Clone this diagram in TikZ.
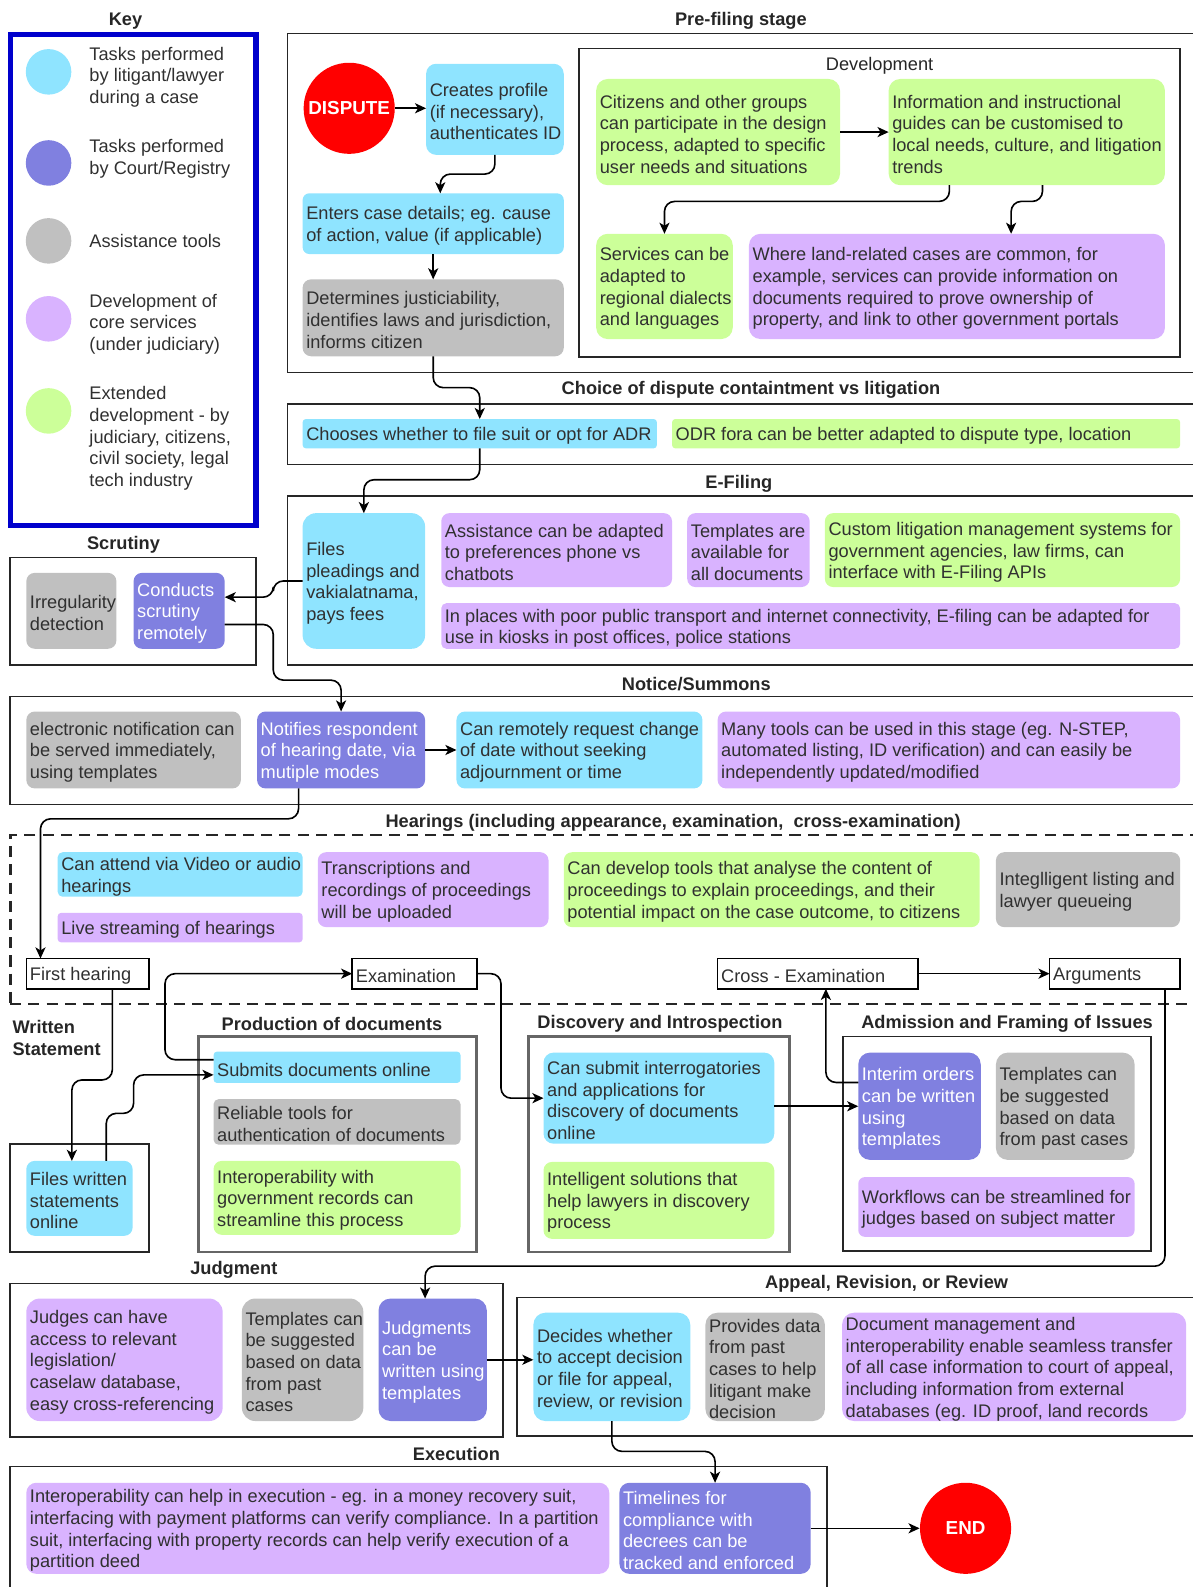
\documentclass[tikz,border=0pt]{standalone}
\usepackage{fontspec}
\setmainfont{Liberation Sans}
\usetikzlibrary{arrows.meta,calc}
\definecolor{cyanB}{HTML}{8FE4FF}
\definecolor{courtB}{HTML}{8080E0}
\definecolor{grayB}{HTML}{C0C0C0}
\definecolor{purpB}{HTML}{D9B3FF}
\definecolor{greenB}{HTML}{CCFF99}
\definecolor{keyblue}{HTML}{0000CC}
\definecolor{txtc}{HTML}{303030}
\newcommand\bx[8]{%
  \pgfmathsetmacro\BXw{(#4-#2)*0.5}%
  \pgfmathsetmacro\BXh{(#5-#3)*0.5}%
  \pgfmathsetmacro\BXr{min(\BXw,\BXh)*0.11}%
  \node[inner sep=0pt, outer sep=0pt, rounded corners=\BXr pt, #6, minimum width=\BXw pt, minimum height=\BXh pt] (#1) at ({(#2+#4)/2},{(#3+#5)/2}) {};
  \node[txt, #7, anchor=west] (#1-t) at ([xshift=1.6pt]#1.west) {#8};
}
\newcommand\frm[6]{%
  \pgfmathsetmacro\BXw{(#4-#2)*0.5}%
  \pgfmathsetmacro\BXh{(#5-#3)*0.5}%
  \node[inner sep=0pt, outer sep=0pt, #6, minimum width=\BXw pt, minimum height=\BXh pt] (#1) at ({(#2+#4)/2},{(#3+#5)/2}) {};
}
\tikzset{
  txt/.style={inner sep=0pt, align=left, font=\fontsize{9}{10.7}\selectfont, text=txtc, yshift=-1.1pt},
  wtxt/.style={text=white},
  lbl/.style={inner sep=0pt, align=center, font=\fontsize{9}{10.7}\selectfont\bfseries, text=black!85, yshift=-1.3pt},
  bcy/.style={fill=cyanB},
  bco/.style={fill=courtB},
  bgr/.style={fill=grayB},
  bpu/.style={fill=purpB},
  bgn/.style={fill=greenB},
  stp/.style={draw=black, fill=white, line width=0.8pt, sharp corners},
  fr/.style={draw=black!85, line width=0.8pt},
  grfr/.style={draw=black!60, line width=1.2pt},
  dashfr/.style={draw=black!85, line width=1.4pt, dash pattern=on 5.5pt off 3.5pt},
  keyfr/.style={draw=keyblue, line width=2.6pt},
  arr/.style={draw=black, line width=0.8pt, rounded corners=5pt, -{Stealth[length=5.5pt,width=5pt,inset=1.5pt]}},
  kc/.style={circle, inner sep=0pt, minimum size=22.5pt},
  bigc/.style={circle, fill=red, inner sep=0pt, minimum size=45pt, text=white, font=\fontsize{9.3}{11}\selectfont\bfseries},
}
\begin{document}
\begin{tikzpicture}[x=0.5pt,y=-0.5pt]
\useasboundingbox (0,0) rectangle (1178,1568);
% ---------- frames
\frm{keybox}{10.5}{34}{253}{519}{keyfr}
\frm{prefr}{284}{33}{1184}{368}{fr}
\frm{devfr}{572}{48}{1166}{353}{fr}
\frm{choicefr}{284}{399}{1184}{459}{fr}
\frm{efr}{284}{490}{1184}{657}{fr}
\frm{scrfr}{10}{551}{253}{657}{fr}
\frm{notfr}{10}{688}{1184}{795}{fr}
\frm{hearfr}{10}{825}{1190}{992}{dashfr}
\frm{wsfr}{10}{1130}{147}{1237}{fr}
\frm{prodfr}{196}{1024}{471}{1237}{grfr}
\frm{discfr}{522}{1024}{780}{1237}{grfr}
\frm{admfr}{833}{1024}{1137}{1236}{fr}
\frm{judgfr}{10}{1268}{497}{1420}{fr}
\frm{appfr}{511}{1282}{1184}{1419}{fr}
\frm{exfr}{10}{1449}{817}{1585}{fr}
% ---------- labels
\node[lbl] (lkey) at (124,18) {Key};
\node[lbl] (lpre) at (732,18) {Pre-filing stage};
\node[lbl, font=\fontsize{9}{10.7}\selectfont] (ldev) at (869,62) {Development};
\node[lbl] (lchoice) at (742,383) {Choice of dispute containtment vs litigation};
\node[lbl] (lefil) at (730,475) {E-Filing};
\node[lbl] (lscr) at (122,536) {Scrutiny};
\node[lbl] (lnot) at (688,673) {Notice/Summons};
\node[lbl] (lhear) at (665,810) {Hearings (including appearance, examination,\ \ cross-examination)};
\node[lbl, align=left, anchor=west] (lws) at (12,1023) {Written\\Statement};
\node[lbl] (lprod) at (328,1009) {Production of documents};
\node[lbl] (ldisc) at (652,1009) {Discovery and Introspection};
\node[lbl] (ladm) at (995,1009) {Admission and Framing of Issues};
\node[lbl] (ljudg) at (231,1252) {Judgment};
\node[lbl] (lapp) at (876,1266) {Appeal, Revision, or Review};
\node[lbl] (lexe) at (451,1434) {Execution};
% ---------- key
\node[kc, fill=cyanB] (k1) at (48,71) {};
\node[kc, fill=courtB] (k2) at (48,161) {};
\node[kc, fill=grayB] (k3) at (48,238) {};
\node[kc, fill=purpB] (k4) at (48,315) {};
\node[kc, fill=greenB] (k5) at (48,406) {};
\node[txt, anchor=west] (k1t) at (88,74) {Tasks performed\\by litigant/lawyer\\during a case};
\node[txt, anchor=west] (k2t) at (88,155) {Tasks performed\\by Court/Registry};
\node[txt, anchor=west] (k3t) at (88,236) {Assistance tools};
\node[txt, anchor=west] (k4t) at (88,318) {Development of\\core services\\(under judiciary)};
\node[txt, anchor=west] (k5t) at (88,431) {Extended\\development - by\\judiciary, citizens,\\civil society, legal\\tech industry};
% ---------- pre-filing
\node[bigc] (dispute) at (345,107) {DISPUTE};
\bx{creates}{421}{63}{557}{153}{bcy}{}{Creates profile\\(if necessary),\\authenticates ID}
\bx{enters}{299}{191}{557}{251}{bcy}{}{Enters case details; eg. cause\\of action, value (if applicable)}
\bx{det}{299}{276}{557}{352}{bgr}{}{Determines justiciability,\\identifies laws and jurisdiction,\\informs citizen}
\bx{citz}{589}{78}{830}{183}{bgn}{}{Citizens and other groups\\can participate in the design\\process, adapted to specific\\user needs and situations}
\bx{info}{878}{78}{1151}{183}{bgn}{}{Information and instructional\\guides can be customised to\\local needs, culture, and litigation\\trends}
\bx{serv}{589}{231}{724}{335}{bgn}{}{Services can be\\adapted to\\regional dialects\\and languages}
\bx{land}{740}{231}{1151}{335}{bpu}{}{Where land-related cases are common, for\\example, services can provide information on\\documents required to prove ownership of\\property, and link to other government portals}
% ---------- choice
\bx{chooses}{299}{414}{649}{443}{bcy}{}{Chooses whether to file suit or opt for ADR}
\bx{odr}{664}{414}{1166}{443}{bgn}{}{ODR fora can be better adapted to dispute type, location}
% ---------- e-filing
\bx{files}{299}{507}{420}{641}{bcy}{}{Files\\pleadings and\\vakialatnama,\\pays fees}
\bx{assist}{436}{507}{664}{580}{bpu}{}{Assistance can be adapted\\to preferences phone vs\\chatbots}
\bx{tmpl}{679}{507}{800}{580}{bpu}{}{Templates are\\available for\\all documents}
\bx{custom}{815}{507}{1166}{580}{bgn}{}{Custom litigation management systems for\\government agencies, law firms, can\\interface with E-Filing APIs}
\bx{kiosk}{436}{596}{1166}{641}{bpu}{}{In places with poor public transport and internet connectivity, E-filing can be adapted for\\use in kiosks in post offices, police stations}
% ---------- scrutiny
\bx{irreg}{26}{566}{115}{641}{bgr}{}{Irregularity\\detection}
\bx{conducts}{132}{566}{222}{641}{bco}{wtxt}{Conducts\\scrutiny\\remotely}
% ---------- notice
\bx{enot}{26}{703}{238}{779}{bgr}{}{electronic notification can\\be served immediately,\\using templates}
\bx{notifies}{254}{703}{420}{779}{bco}{wtxt}{Notifies respondent\\of hearing date, via\\mutiple modes}
\bx{canreq}{451}{703}{694}{779}{bcy}{}{Can remotely request change\\of date without seeking\\adjournment or time}
\bx{many}{709}{703}{1166}{779}{bpu}{}{Many tools can be used in this stage (eg. N-STEP,\\automated listing, ID verification) and can easily be\\independently updated/modified}
% ---------- hearings
\bx{video}{57}{842}{299}{886}{bcy}{}{Can attend via Video or audio\\hearings}
\bx{live}{57}{902}{299}{931}{bpu}{}{Live streaming of hearings}
\bx{transc}{314}{842}{542}{916}{bpu}{}{Transcriptions and\\recordings of proceedings\\will be uploaded}
\bx{analyse}{557}{842}{968}{916}{bgn}{}{Can develop tools that analyse the content of\\proceedings to explain proceedings, and their\\potential impact on the case outcome, to citizens}
\bx{listing}{984}{842}{1166}{916}{bgr}{}{Integlligent listing and\\lawyer queueing}
\bx{first}{26}{947}{147}{977}{stp}{}{First hearing}
\bx{exam}{348}{947}{471}{977}{stp}{}{Examination}
\bx{cross}{709}{947}{907}{977}{stp}{}{Cross - Examination}
\bx{args}{1037}{947}{1166}{977}{stp}{}{Arguments}
% ---------- written statement
\bx{fwrit}{26}{1147}{131}{1221}{bcy}{}{Files written\\statements\\online}
% ---------- production
\bx{submits}{211}{1039}{455}{1070}{bcy}{}{Submits documents online}
\bx{reliable}{211}{1086}{455}{1131}{bgr}{}{Reliable tools for\\authentication of documents}
\bx{interop}{211}{1147}{455}{1220}{bgn}{}{Interoperability with\\government records can\\streamline this process}
% ---------- discovery
\bx{cansub}{537}{1040}{765}{1130}{bcy}{}{Can submit interrogatories\\and applications for\\discovery of documents\\online}
\bx{intel}{537}{1148}{765}{1224}{bgn}{}{Intelligent solutions that\\help lawyers in discovery\\process}
% ---------- admission
\bx{interim}{848}{1040}{969}{1146}{bco}{wtxt}{Interim orders\\can be written\\using\\templates}
\bx{tmplsug}{984}{1040}{1121}{1146}{bgr}{}{Templates can\\be suggested\\based on data\\from past cases}
\bx{workfl}{848}{1163}{1121}{1222}{bpu}{}{Workflows can be streamlined for\\judges based on subject matter}
% ---------- judgment
\bx{judges}{26}{1283}{220}{1404}{bpu}{}{Judges can have\\access to relevant\\legislation/\\caselaw database,\\easy cross-referencing}
\bx{tmplj}{239}{1283}{359}{1404}{bgr}{}{Templates can\\be suggested\\based on data\\from past\\cases}
\bx{judg}{374}{1283}{481}{1404}{bco}{wtxt}{Judgments\\can be\\written using\\templates}
% ---------- appeal
\bx{decides}{527}{1297}{682}{1404}{bcy}{}{Decides whether\\to accept decision\\or file for appeal,\\review, or revision}
\bx{provides}{697}{1297}{815}{1404}{bgr}{}{Provides data\\from past\\cases to help\\litigant make\\decision}
\bx{docmgmt}{832}{1297}{1172}{1404}{bpu}{}{Document management and\\interoperability enable seamless transfer\\of all case information to court of appeal,\\including information from external\\databases (eg. ID proof, land records}
% ---------- execution
\bx{interex}{26}{1465}{602}{1555}{bpu}{}{Interoperability can help in execution - eg. in a money recovery suit,\\interfacing with payment platforms can verify compliance. In a partition\\suit, interfacing with property records can help verify execution of a\\partition deed}
\bx{timel}{612}{1465}{801}{1555}{bco}{wtxt}{Timelines for\\compliance with\\decrees can be\\tracked and enforced}
\node[bigc] (endc) at (954,1510) {END};
% ---------- connectors
\draw[arr] (dispute.east) -- (creates.west |- dispute.east);
\draw[arr] (creates.south) -- ++(0,19) -| ([xshift=3.5pt]enters.north);
\draw[arr] (enters.south) -- (det.north);
\draw[arr] (citz.east) -- (info.west);
\draw[arr] ([xshift=-38.25pt]info.south) -- ++(0,16) -| (serv.north);
\draw[arr] ([xshift=7.75pt]info.south) -- ++(0,16) -| ([xshift=26.75pt]land.north);
\draw[arr] (det.south) -- ++(0,31) -| (chooses.north);
\draw[arr] (chooses.south) -- ++(0,31) -| (files.north);
\draw[arr] (files.west) -- (270,574) |- ([yshift=6.75pt]conducts.east);
\draw[arr] ([yshift=-6.75pt]conducts.east) -- (270,617) -- (270,672) -| (notifies.north);
\draw[arr] (notifies.east) -- (canreq.west);
\draw[arr] ([xshift=-21pt]notifies.south) -- (295,809) -| ([xshift=-23.25pt]first.north);
\draw[arr] ([xshift=12.25pt]first.south) -- (111,1067) -| ([xshift=-3.75pt]fwrit.north);
\draw[arr] ([xshift=13.25pt]fwrit.north) -- (105,1100) -- (132,1100) -- (132,1062) -- ([yshift=-3.75pt]submits.west);
\draw[arr] ([yshift=3.75pt]submits.west) -| (163,962) -- (exam.west);
\draw[arr] (exam.east) -- (495,962) |- (cansub.west);
\draw[arr] (cansub.east |- interim.west) -- (interim.west);
\draw[arr] ([yshift=11.75pt]interim.west) -| ([xshift=4pt]cross.south);
\draw[arr] (cross.east) -- (args.west);
\draw[arr] ([xshift=24.75pt]args.south) -- (1151,1251) -| ([xshift=-3.75pt]judg.north);
\draw[arr] (judg.east) -- (decides.west |- judg.east);
\draw[arr] (decides.south) -- ++(0,30) -| (timel.north);
\draw[arr] (timel.east) -- (endc.west);
\end{tikzpicture}
\end{document}
